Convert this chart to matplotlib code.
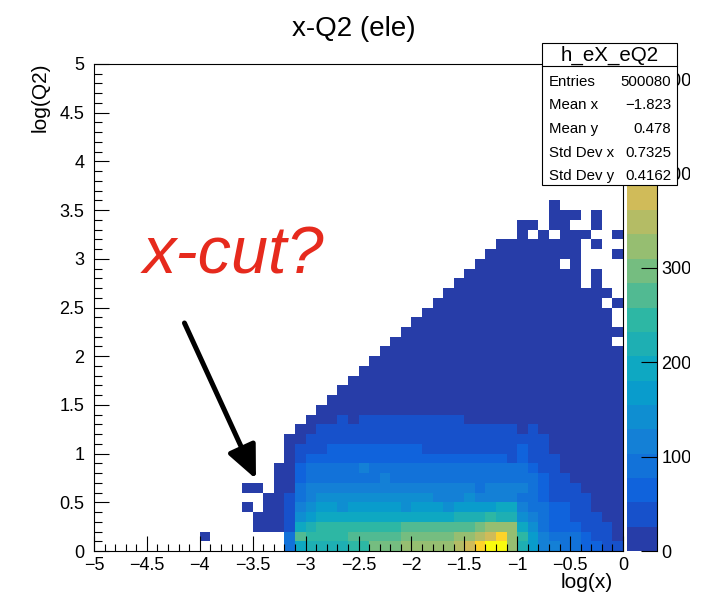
import numpy as np
import matplotlib.pyplot as plt
from matplotlib.colors import LinearSegmentedColormap, ListedColormap, BoundaryNorm
from matplotlib.patches import Rectangle
from matplotlib.ticker import MultipleLocator, FuncFormatter
from matplotlib.transforms import Bbox, TransformedBbox

plt.rcParams['font.family'] = ['Liberation Sans', 'DejaVu Sans']

W, H = 706, 596  # canvas size in pixels

title = "x-Q2 (ele)"
hist_name = "h_eX_eQ2"
x_label = "log(x)"
y_label = "log(Q2)"
note_text = "x-cut?"

stat_names = ["Entries", "Mean x", "Mean y", "Std Dev x", "Std Dev y"]
stat_values = ["500080", "\u22121.823", "0.478", "0.7325", "0.4162"]

# 50 x 50 bins
x_edges = np.linspace(-5, 0, 51)
y_edges = np.linspace(0, 5, 51)

# z axis: 20 contour levels up to the maximum bin
z_max = 516.0
n_levels = 20
z_ticks = [0, 100, 200, 300, 400, 500]

# ROOT kBird palette
bird_stops = [0.0, 0.125, 0.25, 0.375, 0.5, 0.625, 0.75, 0.875, 1.0]
bird_r = [0.2082, 0.0592, 0.0780, 0.0232, 0.1802, 0.5301, 0.8186, 0.9956, 0.9764]
bird_g = [0.1664, 0.3599, 0.5041, 0.6419, 0.7178, 0.7492, 0.7328, 0.7862, 0.9832]
bird_b = [0.5293, 0.8684, 0.8385, 0.7914, 0.6425, 0.4662, 0.3499, 0.1968, 0.0539]

# contour level of each bin
# rows from log(Q2) 3.5-3.6 (top) down to 0-0.1, columns log(x) -5 .. 0
# '.' = empty, '0'-'9', 'a'-'j' = level 0..19
level_rows = [
    ".......... .......... .......... .......... ...0......",  # 35
    ".......... .......... .......... .......... ...000.0..",
    ".......... .......... .......... .......... 00.00..0..",
    ".......... .......... .......... .......... 0.0.000..0",
    ".......... .......... .......... ........00 000000.0..",
    ".......... .......... .......... .......000 000000...0",  # 30
    ".......... .......... .......... ......0000 0000.0....",
    ".......... .......... .......... .....00000 000000.0..",
    ".......... .......... .......... ....000000 000000.0..",
    ".......... .......... .......... ...0000000 000000000.",
    ".......... .......... .......... ..00000000 00000000.0",  # 25
    ".......... .......... .......... .000000000 000000000.",
    ".......... .......... .......... 0000000000 000000000.",
    ".......... .......... .........0 0000000000 0000000000",
    ".......... .......... ........00 0000000000 000000000.",
    ".......... .......... .......000 0000000000 0000000000",  # 20
    ".......... .......... ......0000 0000000000 0000000000",
    ".......... .......... .....00000 0000000000 0000000000",
    ".......... .......... ....000000 0000000000 0000000000",
    ".......... .......... ...0000000 0000000000 0000000000",
    ".......... .......... ..00000000 0000000000 0000000000",  # 15
    ".......... .......... .000000000 0000000000 0000000000",
    ".......... .......... 0001011111 1111100000 0000000000",
    ".......... .........0 0111111111 1111111111 0100000000",
    ".......... ........00 1111111111 1111111111 1110000000",
    ".......... ........01 1122222222 2111111111 2110000000",  # 10
    ".......... ........01 2222222222 2222222221 2111000000",
    ".......... .......002 3333343333 3333333333 3211000000",
    ".......... .......002 3333333433 3333333333 3321100000",
    ".......... ....00.003 4444444444 4444443444 4321110000",
    ".......... ......0013 4555555555 5544454444 3321111000",  # 5
    ".......... ....0.0014 5665666665 6665666677 4332211000",
    ".......... .....00015 6777777777 7777888988 5432211100",
    ".......... .....00017 899999999a aaaaaabccc 7532221110",
    ".......... 0.......3a 9999aaaaab bbbbccdehc 9643332110",
    ".......... ........37 888899bbbc ccccdehjjc 8644332211",  # 0
]

counts = np.full((50, 50), np.nan)
for i, row in enumerate(reversed(level_rows)):
    s = row.replace(" ", "")
    assert len(s) == 50, (i, len(s))
    for j, ch in enumerate(s):
        if ch != ".":
            counts[i, j] = (int(ch, 36) + 0.5) * z_max / n_levels


def px(x0, y0, w, h):
    """pixel box (left, top, width, height) -> figure fraction rect"""
    return [x0 / W, 1 - (y0 + h) / H, w / W, h / H]


bird = LinearSegmentedColormap.from_list(
    "bird", list(zip(bird_stops, zip(bird_r, bird_g, bird_b))))
cmap = ListedColormap([bird((k + 0.99) / n_levels) for k in range(n_levels)])
norm = BoundaryNorm(np.linspace(0, z_max, n_levels + 1), n_levels)

fig = plt.figure(figsize=(W / 100, H / 100), dpi=100)
fig.patch.set_facecolor("white")

ax = fig.add_axes(px(94, 64, 529, 487))
mesh = ax.pcolormesh(x_edges, y_edges, np.ma.masked_invalid(counts),
                     cmap=cmap, norm=norm, edgecolors="none", antialiased=False)
ax.set_xlim(-5, 0)
ax.set_ylim(0, 5)

fmt = FuncFormatter(lambda v, p: f"{v:g}".replace("-", "\u2212"))
ax.xaxis.set_major_locator(MultipleLocator(0.5))
ax.xaxis.set_minor_locator(MultipleLocator(0.1))
ax.yaxis.set_major_locator(MultipleLocator(0.5))
ax.yaxis.set_minor_locator(MultipleLocator(0.1))
ax.xaxis.set_major_formatter(fmt)
ax.yaxis.set_major_formatter(fmt)
ax.tick_params(which="both", direction="in", top=False, right=False,
               width=0.8, labelsize=13)
ax.tick_params(which="major", length=10.8)
ax.tick_params(which="minor", length=5.4)
ax.tick_params(axis="x", pad=4)
ax.tick_params(axis="y", pad=7)
for sp in ax.spines.values():
    sp.set_linewidth(0.8)

# palette
cax = fig.add_axes(px(627, 64, 30, 487))
cb = fig.colorbar(mesh, cax=cax, ticks=z_ticks)
cb.outline.set_visible(False)
cb.minorticks_off()
cax.set_ylim(0, z_max)
cax.tick_params(direction="in", length=11.5, width=0.8, labelsize=13, pad=3)
cax.plot([1, 1], [0, 1], transform=cax.transAxes, color="k", lw=0.8,
         clip_on=False)

# the canvas ends at x=690; labels behind the stats box only peek out right of it
edge_clip = TransformedBbox(Bbox.from_extents(0, 0, 690 / W, 1), fig.transFigure)
box_clip = TransformedBbox(Bbox.from_extents(677 / W, 0, 690 / W, 1), fig.transFigure)
for val, lab in zip(z_ticks, cax.get_yticklabels()):
    lab.set_clip_on(True)
    lab.set_clip_box(box_clip if val >= 400 else edge_clip)

# titles
fig.text(354 / W, 1 - 29 / H, title, ha="center", va="center", fontsize=20)
fig.text(613 / W, 1 - 582 / H, x_label, ha="right", va="center", fontsize=15)
fig.text(40 / W, 1 - 63 / H, y_label, ha="center", va="top", rotation=90,
         fontsize=15)

# annotation
ax.annotate("", xy=(-3.469, 0.739), xytext=(-4.145, 2.341),
            arrowprops=dict(arrowstyle="-|>,head_length=1.0,head_width=0.45",
                            mutation_scale=20, lw=3.6, color="black",
                            shrinkA=0, shrinkB=0))
ax.text(-4.537, 2.854, note_text, ha="left", va="baseline", fontsize=48,
        style="italic", color="#e62a1d")

# stats box
sax = fig.add_axes([0, 0, 1, 1], facecolor="none")
sax.set_xlim(0, W)
sax.set_ylim(H, 0)
sax.axis("off")
sax.add_patch(Rectangle((542, 43), 135, 142, facecolor="white",
                        edgecolor="black", lw=0.8))
sax.plot([542, 677], [66, 66], color="black", lw=0.8)
sax.text(609.5, 55, hist_name, ha="center", va="center", fontsize=14.8)
for k, (name, val) in enumerate(zip(stat_names, stat_values)):
    yy = 81.5 + k * 23.7
    sax.text(549, yy, name, ha="left", va="center", fontsize=10.8)
    sax.text(671, yy, val, ha="right", va="center", fontsize=10.8)

fig.savefig("out.png", dpi=100)
